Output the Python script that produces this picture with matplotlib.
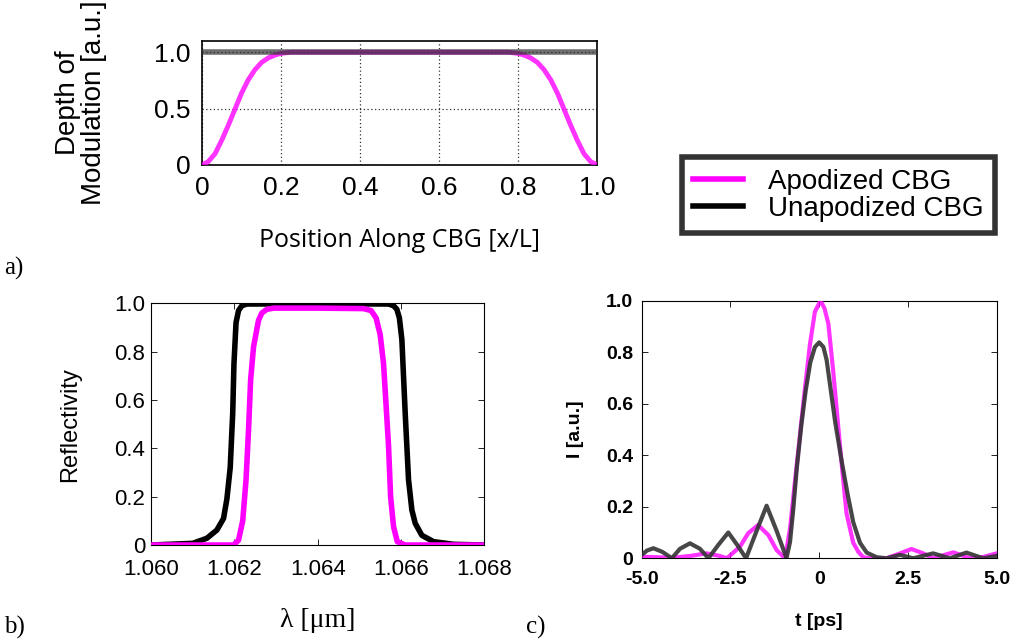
import numpy as np
import matplotlib.pyplot as plt
from matplotlib.lines import Line2D

# a) depth of modulation along the grating
pos = [0.0, 0.016, 0.033, 0.05, 0.067, 0.084, 0.10, 0.117, 0.134, 0.151, 0.168, 0.185, 0.20, 0.225,
       0.775, 0.80, 0.815, 0.832, 0.849, 0.866, 0.883, 0.90, 0.916, 0.933, 0.95, 0.967, 0.984, 1.0]
mod_apod = [0.0, 0.03, 0.10, 0.22, 0.355, 0.50, 0.636, 0.755, 0.845, 0.91, 0.95, 0.975, 0.99, 1.0,
            1.0, 0.99, 0.975, 0.95, 0.91, 0.845, 0.755, 0.636, 0.50, 0.355, 0.22, 0.10, 0.03, 0.0]
pos_unapod = [0.0, 1.0]
mod_unapod = [1.0, 1.0]

# b) reflectivity spectra
wl_unapod = [1.0600, 1.0610, 1.06134, 1.06158, 1.06174, 1.06182, 1.06190, 1.06196, 1.06199, 1.06204,
             1.06210, 1.06218, 1.0623, 1.0640, 1.0657, 1.06582, 1.06590, 1.06596, 1.06602, 1.06610,
             1.06618, 1.06626, 1.06634, 1.0665, 1.06678, 1.06726, 1.0680]
r_unapod = [0.0, 0.007, 0.028, 0.062, 0.11, 0.19, 0.32, 0.545, 0.75, 0.92,
            0.97, 0.99, 0.997, 0.998, 0.997, 0.99, 0.975, 0.94, 0.85, 0.545,
            0.27, 0.145, 0.09, 0.04, 0.014, 0.003, 0.0]
wl_apod = [1.0600, 1.06198, 1.0621, 1.0622, 1.06228, 1.06234, 1.06239, 1.06246, 1.06258, 1.06266,
           1.06278, 1.06294, 1.0640, 1.0651, 1.06528, 1.06540, 1.06550, 1.06558, 1.06563, 1.0657,
           1.06575, 1.06582, 1.06591, 1.0661, 1.0680]
r_apod = [0.0, 0.0, 0.02, 0.10, 0.27, 0.476, 0.683, 0.82, 0.93, 0.96,
          0.975, 0.98, 0.98, 0.978, 0.97, 0.94, 0.87, 0.75, 0.61, 0.41,
          0.20, 0.076, 0.014, 0.0, 0.0]

# c) pulse intensity
t_unapod = [-5.0, -4.85, -4.67, -4.42, -4.15, -3.92, -3.64, -3.36, -3.12, -2.84, -2.56, -2.31, -2.06,
            -1.76, -1.48, -1.2, -0.92, -0.82, -0.73, -0.63, -0.50, -0.38, -0.25, -0.12, 0.0,
            0.12, 0.21, 0.32, 0.45, 0.63, 0.80, 0.96, 1.15, 1.34, 1.62, 1.9, 2.28, 2.65,
            3.21, 3.68, 4.15, 4.62, 5.0]
i_unapod = [0.013, 0.03, 0.039, 0.025, 0.0, 0.037, 0.058, 0.037, 0.0, 0.052, 0.10, 0.052, 0.0,
            0.107, 0.204, 0.107, 0.0, 0.064, 0.19, 0.35, 0.52, 0.65, 0.76, 0.82, 0.838,
            0.82, 0.77, 0.66, 0.53, 0.38, 0.25, 0.14, 0.06, 0.022, 0.004, 0.0, 0.013, 0.0,
            0.019, 0.0, 0.022, 0.0, 0.009]
t_apod = [-5.0, -4.11, -3.64, -3.17, -2.8, -2.6, -2.23, -2.0, -1.72, -1.43, -1.2, -0.96,
          -0.82, -0.68, -0.54, -0.40, -0.26, -0.12, 0.04, 0.15, 0.26, 0.40, 0.59, 0.77,
          0.96, 1.1, 1.24, 1.43, 1.9, 2.28, 2.6, 2.93, 3.21, 3.78, 4.25, 4.62, 5.0]
i_apod = [0.006, 0.002, 0.009, 0.019, 0.009, 0.0, 0.045, 0.097, 0.129, 0.09, 0.032, 0.0,
          0.116, 0.30, 0.48, 0.66, 0.83, 0.957, 1.0, 0.97, 0.91, 0.72, 0.43, 0.175,
          0.06, 0.026, 0.004, 0.0, 0.0, 0.019, 0.036, 0.019, 0.0, 0.023, 0.0, 0.005, 0.019]

magenta = '#ff00ff'
arial = 'Liberation Sans'
times = 'Liberation Serif'

fig = plt.figure(figsize=(10.11, 6.4), dpi=100)

# ---- panel a
ax1 = fig.add_axes([0.1998, 0.7422, 0.3907, 0.1938])
ax1.plot(pos, mod_apod, color=magenta, lw=3.5, alpha=0.8, zorder=3)
ax1.plot(pos_unapod, mod_unapod, color='#303030', lw=4, alpha=0.7, zorder=4)
ax1.set_xlim(0, 1)
ax1.set_ylim(0, 1.1)
ax1.set_xticks([0, 0.2, 0.4, 0.6, 0.8, 1.0])
ax1.set_xticklabels(['0', '0.2', '0.4', '0.6', '0.8', '1.0'], family=arial, fontsize=19)
ax1.set_yticks([0, 0.5, 1.0])
ax1.set_yticklabels(['0', '0.5', '1.0'], family=arial, fontsize=19)
ax1.tick_params(length=0, pad=8)
ax1.grid(True, color='#333333', linestyle=(0, (1, 2)), linewidth=0.9)
for s in ax1.spines.values():
    s.set_linewidth(1.2)
ax1.set_xlabel('Position Along CBG [x/L]', family='Open Sans', fontsize=18, labelpad=20)
ax1.set_ylabel('Depth of\nModulation [a.u.]', family=arial, fontsize=20, labelpad=34,
               linespacing=1.0)

# ---- panel b
ax2 = fig.add_axes([0.1494, 0.1484, 0.3297, 0.3777])
ax2.plot(wl_unapod, r_unapod, color='black', lw=4, zorder=3)
ax2.plot(wl_apod, r_apod, color=magenta, lw=4, zorder=4)
ax2.set_xlim(1.060, 1.068)
ax2.set_ylim(0, 1.0)
ax2.set_xticks([1.060, 1.062, 1.064, 1.066, 1.068])
ax2.set_xticklabels(['1.060', '1.062', '1.064', '1.066', '1.068'], family=arial, fontsize=16)
ax2.set_yticks([0, 0.2, 0.4, 0.6, 0.8, 1.0])
ax2.set_yticklabels(['0', '0.2', '0.4', '0.6', '0.8', '1.0'], family=arial, fontsize=16)
ax2.tick_params(direction='in', top=True, right=True, length=4, width=0.6, pad=4)
ax2.tick_params(axis='x', pad=10)
ax2.set_xlabel('λ [μm]', family=times, fontsize=20, labelpad=20)
ax2.set_ylabel('Reflectivity', family=arial, fontsize=17, labelpad=24)

# ---- panel c
ax3 = fig.add_axes([0.6347, 0.1277, 0.3511, 0.4025])
ax3.plot(t_apod, i_apod, color=magenta, lw=3, alpha=0.8, zorder=3)
ax3.plot(t_unapod, i_unapod, color='#333333', lw=3, alpha=0.9, zorder=4)
ax3.set_xlim(-5, 5)
ax3.set_ylim(0, 1.0)
ax3.set_xticks([-5, -2.5, 0, 2.5, 5])
ax3.set_xticklabels(['-5.0', '-2.5', '0', '2.5', '5.0'], family=arial, fontsize=14, fontweight='bold')
ax3.set_yticks([0, 0.2, 0.4, 0.6, 0.8, 1.0])
ax3.set_yticklabels(['0', '0.2', '0.4', '0.6', '0.8', '1.0'], family=arial, fontsize=14,
                    fontweight='bold')
ax3.tick_params(direction='in', top=True, right=True, length=4, width=0.6, pad=6)
ax3.tick_params(axis='x', pad=9)
ax3.set_xlabel('t [ps]', family=arial, fontsize=14, fontweight='bold', labelpad=18)
ax3.set_ylabel('I [a.u.]', family=arial, fontsize=14, fontweight='bold', labelpad=16)

# ---- legend
handles = [Line2D([], [], color=magenta, lw=4), Line2D([], [], color='black', lw=4)]
leg = fig.legend(handles, ['Apodized CBG', 'Unapodized CBG'], loc='center',
                 bbox_to_anchor=(0.829, 0.695), prop={'family': arial, 'size': 20},
                 fancybox=False, handlelength=1.8, handletextpad=0.9, borderpad=0.4,
                 labelspacing=0.05)
leg.get_frame().set_edgecolor('black')
leg.get_frame().set_linewidth(4)

fig.text(0.004, 0.58, 'a)', family=times, fontsize=18, va='center')
fig.text(0.004, 0.02, 'b)', family=times, fontsize=18, va='center')
fig.text(0.52, 0.02, 'c)', family=times, fontsize=18, va='center')

plt.savefig('out.png', dpi=100)
